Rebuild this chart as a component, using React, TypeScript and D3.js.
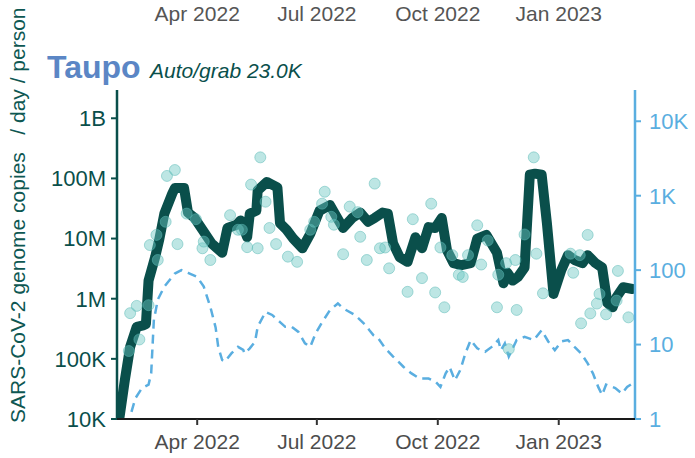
import React from 'react';
import * as d3 from 'd3';

const W = 695;
const H = 458;

const xTickDates = ['2022-04-01', '2022-07-01', '2022-10-01', '2023-01-01'];
const xTickLabels = ['Apr 2022', 'Jul 2022', 'Oct 2022', 'Jan 2023'];
const leftTickValues = [1e4, 1e5, 1e6, 1e7, 1e8, 1e9];
const leftTickLabels = ['10K', '100K', '1M', '10M', '100M', '1B'];
const rightTickValues = [1, 10, 100, 1000, 10000];
const rightTickLabels = ['1', '10', '100', '1K', '10K'];

const placeName = 'Taupo';
const subtitle = 'Auto/grab 23.0K';
const yTitle = 'SARS-CoV-2 genome copies   / day / person';

// smoothed genome copies / day / person (left axis)
const smoothDates = [
  '2022-01-30', '2022-02-01', '2022-02-05', '2022-02-09', '2022-02-14', '2022-02-19', '2022-02-21', '2022-02-23',
  '2022-02-28', '2022-03-03', '2022-03-07', '2022-03-13', '2022-03-15', '2022-03-22', '2022-03-25', '2022-03-30',
  '2022-04-05', '2022-04-12', '2022-04-20', '2022-04-24', '2022-05-01', '2022-05-04', '2022-05-09', '2022-05-11',
  '2022-05-16', '2022-05-17', '2022-05-24', '2022-06-01', '2022-06-03', '2022-06-08', '2022-06-13', '2022-06-20',
  '2022-06-26', '2022-07-03', '2022-07-11', '2022-07-16', '2022-07-21', '2022-07-28', '2022-08-03', '2022-08-09',
  '2022-08-14', '2022-08-20', '2022-08-24', '2022-08-28', '2022-09-02', '2022-09-08', '2022-09-14', '2022-09-19',
  '2022-09-24', '2022-09-29', '2022-10-04', '2022-10-08', '2022-10-13', '2022-10-19', '2022-10-26', '2022-10-31',
  '2022-11-07', '2022-11-15', '2022-11-20', '2022-11-23', '2022-11-27', '2022-12-01', '2022-12-06', '2022-12-10',
  '2022-12-14', '2022-12-19', '2022-12-23', '2022-12-28', '2023-01-03', '2023-01-08', '2023-01-13', '2023-01-19',
  '2023-01-23', '2023-01-29', '2023-02-03', '2023-02-07', '2023-02-11', '2023-02-14', '2023-02-19', '2023-02-26',
];
const smoothValues = [
  9e3, 1.1e4, 4.5e4, 1.58e5, 3.4e5, 3.6e5, 3.8e5, 2.0e6,
  4.9e6, 9.3e6, 2.6e7, 5.6e7, 6.9e7, 6.9e7, 2.7e7, 2.2e7,
  1.4e7, 8.3e6, 5.8e6, 1.5e7, 1.7e7, 2.0e7, 1.05e7, 2.6e7,
  2.9e7, 6.3e7, 8.7e7, 7.1e7, 1.8e7, 1.4e7, 1.0e7, 6.9e6,
  1.2e7, 2.9e7, 3.6e7, 2.3e7, 1.5e7, 2.2e7, 2.7e7, 1.9e7,
  2.2e7, 2.7e7, 2.6e7, 8.3e6, 4.9e6, 4.1e6, 1.05e7, 6.9e6,
  1.55e7, 1.5e7, 2.2e7, 6.4e6, 3.9e6, 3.6e6, 3.9e6, 1.0e7,
  1.15e7, 5.8e6, 1.8e6, 2.7e6, 2.0e6, 2.3e6, 3.3e6, 1.15e8,
  1.2e8, 1.15e8, 1.8e7, 1.2e6, 3.0e6, 5.3e6, 4.4e6, 3.9e6,
  5.3e6, 3.9e6, 3.3e6, 8.5e5, 7.2e5, 1.07e6, 1.55e6, 1.45e6,
];

// individual samples (left axis)
const sampleDates = [
  '2022-02-09', '2022-02-14', '2022-02-08', '2022-02-16', '2022-02-23', '2022-02-24', '2022-03-01', '2022-03-02',
  '2022-03-08', '2022-03-09', '2022-03-15', '2022-03-17', '2022-03-24', '2022-03-31', '2022-04-05', '2022-04-06',
  '2022-04-11', '2022-04-26', '2022-05-02', '2022-05-19', '2022-05-12', '2022-05-23', '2022-05-26', '2022-05-31',
  '2022-05-09', '2022-05-17', '2022-06-09', '2022-06-16', '2022-05-05', '2022-07-07', '2022-07-05', '2022-06-29',
  '2022-06-26', '2022-07-12', '2022-07-14', '2022-07-26', '2022-08-01', '2022-08-03', '2022-07-21', '2022-08-08',
  '2022-08-14', '2022-08-18', '2022-08-22', '2022-08-25', '2022-09-08', '2022-09-12', '2022-09-19', '2022-09-26',
  '2022-09-29', '2022-10-03', '2022-10-06', '2022-10-12', '2022-10-17', '2022-10-20', '2022-10-24', '2022-10-31',
  '2022-11-03', '2022-11-08', '2022-11-15', '2022-11-16', '2022-11-30', '2022-11-22', '2022-11-29', '2022-12-06',
  '2022-12-13', '2022-12-15', '2022-12-20', '2023-01-10', '2023-01-12', '2023-01-17', '2023-01-23', '2023-01-18',
  '2023-01-25', '2023-01-30', '2023-02-01', '2023-02-06', '2023-02-14', '2023-02-15', '2023-02-23', '2022-11-24',
];
const sampleValues = [
  5.75e5, 7.6e5, 1.35e5, 2.1e5, 7.8e5, 7.8e6, 1.15e7, 4.4e6,
  1.9e7, 1.1e8, 1.38e8, 8.1e6, 2.6e7, 2.1e7, 6.9e6, 8.9e6,
  4.4e6, 2.45e7, 1.4e7, 2.24e8, 7.9e7, 4.1e7, 1.5e7, 8.1e6,
  7.2e6, 6.9e6, 5.0e6, 4.1e6, 1.4e7, 6.0e7, 3.8e7, 1.9e7,
  1.4e7, 2.3e7, 1.7e7, 3.4e7, 2.75e7, 1.07e7, 5.5e6, 4.4e6,
  8.2e7, 6.9e6, 7.1e6, 3.2e6, 1.3e6, 2.1e7, 2.2e6, 3.8e7,
  1.27e6, 7.1e6, 7.2e5, 5.3e6, 2.5e6, 2.3e6, 5.3e6, 1.66e7,
  3.7e6, 9.3e6, 7.2e5, 2.5e6, 6.5e5, 3.9e6, 4.4e6, 1.17e7,
  2.24e8, 5.6e6, 1.23e6, 5.6e6, 2.7e6, 5.3e6, 1.15e7, 3.9e5,
  5.7e5, 8.3e5, 1.2e6, 5.5e5, 9.3e5, 2.9e6, 4.9e5, 1.45e5,
];

// reported cases (right axis)
const caseDates = [
  '2022-02-10', '2022-02-13', '2022-02-18', '2022-02-23', '2022-02-25', '2022-02-27', '2022-03-02', '2022-03-07',
  '2022-03-15', '2022-03-20', '2022-03-25', '2022-04-01', '2022-04-06', '2022-04-11', '2022-04-15', '2022-04-17',
  '2022-04-20', '2022-04-22', '2022-04-27', '2022-05-02', '2022-05-06', '2022-05-07', '2022-05-11', '2022-05-15',
  '2022-05-17', '2022-05-23', '2022-05-28', '2022-06-03', '2022-06-07', '2022-06-12', '2022-06-17', '2022-06-22',
  '2022-06-26', '2022-06-30', '2022-07-05', '2022-07-11', '2022-07-17', '2022-07-21', '2022-07-30', '2022-08-07',
  '2022-08-10', '2022-08-13', '2022-08-16', '2022-08-22', '2022-08-28', '2022-09-01', '2022-09-05', '2022-09-11',
  '2022-09-17', '2022-09-24', '2022-09-29', '2022-10-03', '2022-10-07', '2022-10-10', '2022-10-14', '2022-10-18',
  '2022-10-22', '2022-10-26', '2022-10-31', '2022-11-06', '2022-11-11', '2022-11-16', '2022-11-18', '2022-11-21',
  '2022-11-24', '2022-11-30', '2022-12-06', '2022-12-13', '2022-12-19', '2022-12-24', '2022-12-29', '2023-01-03',
  '2023-01-08', '2023-01-13', '2023-01-18', '2023-01-23', '2023-01-27', '2023-01-31', '2023-02-03', '2023-02-06',
  '2023-02-13', '2023-02-18', '2023-02-22', '2023-02-26',
];
const caseValues = [
  1.25, 1.9, 2.6, 2.9, 4.1, 21, 40, 60,
  90, 100, 92, 81, 60, 32, 17, 9.3,
  6.2, 5.9, 7.6, 9.3, 8.5, 7.6, 8.9, 10.9,
  17.3, 27.5, 25, 20, 17.3, 17.3, 14.8, 10.4,
  9.3, 14.1, 20, 29, 35.7, 30.6, 25, 18.3,
  15.6, 13.4, 12.7, 8.9, 6.9, 5.9, 5.0, 4.1,
  3.5, 3.5, 3.2, 2.7, 4.1, 5.0, 3.3, 4.5,
  7.6, 11.5, 8.9, 8.0, 9.3, 11.5, 8.4, 10.4,
  6.9, 11.5, 12.7, 11.5, 15.6, 11, 8.4, 11,
  11.5, 9.3, 7.6, 5.6, 4.1, 2.7, 2.1, 2.9,
  2.6, 2.2, 2.7, 3.0,
];

const FONT = '"Liberation Sans", Arial, Helvetica, sans-serif';
const DARK = '#0a4f4b';
const BLUE = '#5aaee0';

export default function App() {
  const parse = d3.utcParse('%Y-%m-%d');
  const x = d3
    .scaleUtc()
    .domain([new Date(Date.UTC(2022, 0, 30)), new Date(Date.UTC(2023, 1, 28))])
    .range([117, 635]);
  const yL = d3.scaleLog().domain([1e4, Math.pow(10, 9.47)]).range([419, 90]);
  const yR = d3.scaleLog().domain([1, Math.pow(10, 4.42)]).range([419, 90]);

  const smooth = smoothDates.map((d, i) => ({ date: parse(d) as Date, v: smoothValues[i] }));
  const samples = sampleDates.map((d, i) => ({ date: parse(d) as Date, v: sampleValues[i] }));
  const cases = caseDates.map((d, i) => ({ date: parse(d) as Date, v: caseValues[i] }));

  const lineL = d3
    .line<{ date: Date; v: number }>()
    .x((d) => x(d.date))
    .y((d) => yL(d.v));
  const lineR = d3
    .line<{ date: Date; v: number }>()
    .x((d) => x(d.date))
    .y((d) => yR(d.v));

  const [x0, x1] = x.range();
  const [yBottom, yTop] = yL.range();

  return (
    <svg
      width={W}
      height={H}
      style={{ position: 'absolute', left: 0, top: 0, background: '#fff' }}
      fontFamily={FONT}
    >
      <defs>
        <clipPath id="plotclip">
          <rect x={x0} y={yTop - 10} width={x1 - x0} height={yBottom - yTop + 10} />
        </clipPath>
      </defs>

      {/* top axis labels from panel above */}
      {xTickDates.map((d, i) => (
        <text key={'tl' + i} x={x(parse(d) as Date)} y={21} fontSize={21} fill="#555" textAnchor="middle">
          {xTickLabels[i]}
        </text>
      ))}

      {/* title */}
      <text x={47} y={78} fontSize={32} fontWeight="bold" fill="#5b86c5">
        {placeName}
      </text>
      <text x={150} y={78} fontSize={21} fontStyle="italic" fill={DARK}>
        {subtitle}
      </text>

      {/* y title */}
      <text
        transform="translate(25,423) rotate(-90)"
        fontSize={21}
        fill="#0e5752"
        style={{ whiteSpace: 'pre' }}
      >
        {yTitle}
      </text>

      <g clipPath="url(#plotclip)">
        <path
          d={lineR(cases) || ''}
          fill="none"
          stroke={BLUE}
          strokeWidth={2.5}
          strokeDasharray="9,6"
        />
        <path
          d={lineL(smooth) || ''}
          fill="none"
          stroke={DARK}
          strokeWidth={10}
          strokeLinejoin="round"
          strokeLinecap="round"
        />
        {samples.map((s, i) => (
          <circle
            key={'p' + i}
            cx={x(s.date)}
            cy={yL(s.v)}
            r={5.5}
            fill="#6cc8c4"
            fillOpacity={0.45}
            stroke="#5ab9b5"
            strokeOpacity={0.5}
            strokeWidth={1}
          />
        ))}
      </g>

      {/* left axis */}
      <line x1={x0} x2={x0} y1={yTop} y2={yBottom} stroke={DARK} strokeWidth={2.5} />
      {leftTickValues.map((v, i) => (
        <g key={'l' + i}>
          <line x1={x0 - 6} x2={x0} y1={yL(v)} y2={yL(v)} stroke={DARK} strokeWidth={2} />
          <text x={x0 - 11} y={yL(v)} dy="0.36em" fontSize={22} fill={DARK} textAnchor="end">
            {leftTickLabels[i]}
          </text>
        </g>
      ))}

      {/* right axis */}
      <line x1={x1} x2={x1} y1={yTop} y2={yBottom} stroke={BLUE} strokeWidth={2.5} />
      {rightTickValues.map((v, i) => (
        <g key={'r' + i}>
          <line x1={x1} x2={x1 + 6} y1={yR(v)} y2={yR(v)} stroke={BLUE} strokeWidth={2} />
          <text x={x1 + 14} y={yR(v)} dy="0.36em" fontSize={22} fill={BLUE} textAnchor="start">
            {rightTickLabels[i]}
          </text>
        </g>
      ))}

      {/* bottom axis */}
      <line x1={x0} x2={x1} y1={yBottom} y2={yBottom} stroke="#1a1a1a" strokeWidth={2} />
      {xTickDates.map((d, i) => {
        const px = x(parse(d) as Date);
        return (
          <g key={'b' + i}>
            <line x1={px} x2={px} y1={yBottom} y2={yBottom + 6} stroke="#333" strokeWidth={2} />
            <text x={px} y={449} fontSize={21} fill="#4d4d4d" textAnchor="middle">
              {xTickLabels[i]}
            </text>
          </g>
        );
      })}
    </svg>
  );
}
